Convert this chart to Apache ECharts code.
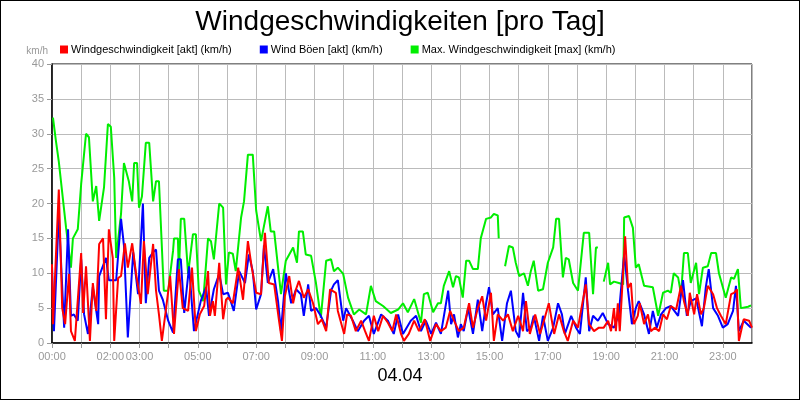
<!DOCTYPE html>
<html>
<head>
<meta charset="utf-8">
<title>Windgeschwindigkeiten</title>
<script src="https://cdn.jsdelivr.net/npm/echarts@6/dist/echarts.min.js"></script>
<style>
  html, body { margin: 0; padding: 0; background: #fff; }
  #main { width: 798px; height: 398px; border: 1px solid #000; }
</style>
</head>
<body>
<div id="main"></div>
<script>
// Zeit in Minuten seit 00:00, Werte in km/h
var tickLabels = ['00:00', '02:00', '03:00', '05:00', '07:00', '09:00', '11:00', '13:00', '15:00', '17:00', '19:00', '21:00', '23:00'];

var maxT = [2,8,14,29,39,43,53,60,70,76,84,91,97,107,115,121,128,132,142,148,158,165,169,175,179,185,193,200,208,214,220,230,239,249,251,259,261,265,272,280,290,296,302,311,321,327,333,344,352,358,364,372,378,389,395,403,413,420,430,444,450,457,471,481,496,504,508,516,522,533,543,553,564,574,580,588,599,609,621,632,646,656,666,681,697,712,722,732,745,759,765,773,784,794,800,806,817,825,831,837,845,852,858,866,876,882,893,903,909,917,919,920,932,940,948,954,961,971,979,985,991,1000,1010,1020,1031,1037,1043,1051,1057,1063,1072,1082,1094,1105,1113,1119,1123,1125,1135,1144,1148,1156,1166,1175,1177,1187,1195,1201,1207,1218,1236,1247,1257,1267,1273,1279,1288,1294,1300,1308,1314,1325,1331,1339,1349,1356,1366,1372,1386,1397,1403,1411,1417,1432,1438];
var maxV = [32.3,29,26,16.5,10.8,15,16.3,22.8,30,29.5,20.3,22.5,17.5,22.3,31.4,31,23.7,12.2,18.5,25.8,23.2,20.3,25.8,25.8,19.4,21,28.7,28.7,20.3,23.2,23.2,7.5,7.5,13.2,15,15,9.9,17.8,17.8,9.9,15.6,15.6,7.5,6,15,14.6,12,20,19.4,8.4,13,12.8,10.3,18,20.3,27,27,19,14.6,19.6,16,16,7,11.8,13.7,11.5,16,16,12.7,12.5,8.6,3.6,11.8,12,10.3,10.8,9.9,6.5,4.1,4.8,4.1,8.2,6,5.3,4.3,4.8,5.7,4.4,6.3,2.9,7,7.2,4.4,5.7,5.7,8.2,10.3,8,9.6,9.4,6.5,11.8,11.8,10.6,10.6,15,17.8,18,18.5,18.3,15,null,11,13.9,13.7,11.5,9.6,10,8.2,10.3,11.8,7.5,7.7,11.5,13.7,17.8,17.8,9.4,12.2,12,8.6,7.5,15.8,15.8,7,13.7,13.7,null,8.8,11.5,8.4,8.8,8.6,8.4,18,18.2,16.5,10.8,11.3,8.2,8,3.9,7.2,7.5,7.2,10,9.4,7,12.9,12.9,8.6,11.5,7,10.8,11,12.9,12.9,10,6.5,9.4,9.2,10.6,5,5.2,5.4];

var aktT = [0,2,14,21,27,35,39,47,60,64,70,78,84,91,97,105,111,117,125,128,136,142,150,156,165,173,183,189,197,208,214,220,226,234,243,251,261,269,280,288,296,304,313,321,325,331,335,344,352,358,362,372,383,393,403,411,420,430,438,446,457,467,473,479,488,496,502,508,518,527,537,547,555,564,572,584,588,601,607,615,625,636,644,652,662,671,681,691,700,708,718,724,734,745,755,767,778,790,800,810,819,827,837,847,858,866,876,885,893,903,909,917,928,938,948,959,969,975,983,994,1004,1012,1022,1033,1043,1053,1061,1072,1082,1098,1105,1115,1125,1135,1144,1150,1156,1160,1164,1168,1179,1185,1191,1197,1205,1209,1218,1226,1232,1240,1249,1257,1265,1273,1284,1294,1300,1308,1312,1321,1327,1335,1341,1349,1360,1368,1376,1386,1397,1403,1409,1413,1423,1434,1440];
var aktV = [11.3,2.7,22,5,2.7,9.9,1.7,0.3,12.9,4.3,11,0.3,8.6,4.6,14.2,15,3.4,16.3,12.2,0.3,9.3,9.6,14.3,10.8,14.3,9.9,5.6,14.6,7,14.2,7.5,4.1,0.3,4.6,9.6,1.3,10.6,5,4.6,10.8,1.7,4.1,5.3,10.3,3.9,6,3.9,11.5,3.4,6.2,6.5,5.7,10.8,6.2,14.6,10.8,7.2,7,15.8,8.6,8.4,3.2,0.3,6.7,9.6,5.7,7.7,8.9,6.5,7.7,5.7,2.7,3.4,1.7,7.7,7.2,4.6,1.3,4.1,3.9,1.7,3.2,1.7,0.3,3.9,1.7,3.9,2.9,1.7,4.1,1.3,0.3,1.3,3.2,1.7,3.4,0.3,2.7,1.7,2.2,4.6,3.2,1.7,2.2,5.7,2.2,5,6.7,3.2,7.2,0.3,4.1,3.2,4.1,1.7,3.9,1.7,6,1.3,4.1,1.3,3.2,5.7,1.3,4.1,1.7,0.3,3.2,2.2,8.4,2.7,1.7,2.2,2.2,3.2,1.7,5,1.7,5.7,1.7,15.3,7.9,8.6,2.7,3.9,5.7,2.7,4.1,1.7,2.2,1.7,4.1,3.4,5.3,4.8,8.2,6,3.9,7.2,4.1,7,4.1,5,8.2,7,5,3.9,2.7,7,7.2,7.7,0.3,3.4,3.2,2.2];

var boeT = [0,4,14,23,25,33,39,45,53,60,66,74,84,95,97,111,117,132,142,148,156,167,177,187,193,200,208,214,220,228,239,249,259,265,272,282,292,306,317,323,333,344,352,362,374,385,397,405,413,420,430,436,444,455,465,471,481,492,502,512,518,527,533,543,553,564,574,580,588,599,605,619,629,642,652,662,677,691,703,712,722,738,749,759,769,780,790,800,815,821,827,835,841,847,856,866,876,885,893,899,907,917,926,936,944,954,961,969,977,985,991,1002,1010,1020,1031,1041,1049,1055,1068,1078,1086,1098,1105,1113,1123,1133,1144,1156,1166,1177,1185,1193,1201,1207,1218,1228,1236,1244,1253,1263,1273,1288,1298,1306,1314,1325,1337,1345,1351,1360,1370,1380,1390,1401,1407,1413,1423,1438];
var boeV = [11,1.7,18.5,5,2.2,16.3,3.9,4.1,3.2,12,4.1,1.3,8,2.7,9.6,12.2,9,9,17.8,14,0.8,13,7,20,5.7,12.2,13,13.4,7.5,6.2,3.2,1.5,12,12,4.3,11,1.7,6,8,3.9,7.7,9.9,7,7.2,4.6,10.3,8.6,12.7,10.3,4.8,7,14,8.6,10.6,6,1.7,10,5.7,7.7,7,3.9,8.4,4.6,5,3.9,2.2,7.5,8.4,9,3.2,5,3.2,1.7,3.2,3.9,1.3,4.1,3.2,1.3,4.1,1.3,3.2,3.9,1.7,3.2,1.3,2.9,1.3,7.5,2.7,4.1,0.8,2.7,1.7,5,1.3,6.2,1.7,5.7,8,4.1,5,0.3,5.7,7.5,1.7,0.8,7.2,1.7,2.2,3.9,0.3,3.9,0.3,2.2,5.7,4.1,1.3,3.9,2.2,1.3,9.4,1.7,3.9,3.2,4.3,2.7,2.2,4.1,12.7,7.5,2.7,5,6,4.1,1.3,4.6,2.2,4.1,5,5.3,3.9,9,3.9,6,6.4,2.4,8,10.6,5,3.9,2.2,2.7,4.6,8.2,1.7,3.2,2.2];

function pairs(t, v) {
    var out = [];
    for (var i = 0; i < t.length; i++) out.push([t[i], v[i]]);
    return out;
}

var myChart = echarts.init(document.getElementById('main'));
var option = {
    animation: false,
    title: {
        text: 'Windgeschwindigkeiten [pro Tag]',
        left: 'center', top: 2,
        textStyle: { fontFamily: 'Liberation Sans', fontSize: 28, fontWeight: 'normal', color: '#000' }
    },
    legend: {
        left: 54, top: 38, itemGap: 28, itemWidth: 8, itemHeight: 8,
        icon: 'rect',
        data: ['Windgeschwindigkeit [akt] (km/h)', 'Wind Böen [akt] (km/h)', 'Max. Windgeschwindigkeit [max] (km/h)'],
        textStyle: { fontFamily: 'Liberation Sans', fontSize: 11, color: '#000', padding: [0, 0, 0, -2] }
    },
    graphic: [{
        type: 'text', left: 'center', top: 366,
        style: { text: '04.04', font: '18px "Liberation Sans"', fill: '#000' }
    }],
    grid: { left: 51, right: 47, top: 63, bottom: 56, show: true, borderColor: '#000', borderWidth: 1 },
    xAxis: {
        type: 'value', min: 0, max: 1440, interval: 60,
        axisLine: { lineStyle: { color: '#000', width: 1.5 } },
        axisTick: { show: true, lineStyle: { color: '#999' } },
        splitLine: { lineStyle: { color: '#bbb' } },
        axisLabel: {
            color: '#999', fontFamily: 'Liberation Sans', fontSize: 11, showMaxLabel: false,
            formatter: function (v) {
                var s = (v / 60 < 10 ? '0' : '') + (v / 60) + ':00';
                return tickLabels.indexOf(s) >= 0 ? s : '';
            }
        }
    },
    yAxis: {
        type: 'value', min: 0, max: 40, interval: 5,
        name: 'km/h', nameGap: 8, nameLocation: 'end',
        nameTextStyle: { color: '#999', fontSize: 10, fontFamily: 'Liberation Sans', align: 'right', padding: [0, 4, 0, 0] },
        axisLine: { show: true, lineStyle: { color: '#000', width: 1.5 } },
        axisTick: { show: true, lineStyle: { color: '#999' } },
        splitLine: { lineStyle: { color: '#bbb' } },
        axisLabel: { color: '#999', fontFamily: 'Liberation Sans', fontSize: 11 }
    },
    series: [
        { name: 'Max. Windgeschwindigkeit [max] (km/h)', type: 'line', data: pairs(maxT, maxV), showSymbol: false, connectNulls: false, lineStyle: { color: '#00ee00', width: 2 }, itemStyle: { color: '#00ee00' }, z: 1 },
        { name: 'Wind Böen [akt] (km/h)', type: 'line', data: pairs(boeT, boeV), showSymbol: false, lineStyle: { color: '#0000ff', width: 2 }, itemStyle: { color: '#0000ff' }, z: 2 },
        { name: 'Windgeschwindigkeit [akt] (km/h)', type: 'line', data: pairs(aktT, aktV), showSymbol: false, lineStyle: { color: '#ff0000', width: 2 }, itemStyle: { color: '#ff0000' }, z: 3 }
    ]
};
myChart.setOption(option);
</script>
</body>
</html>
